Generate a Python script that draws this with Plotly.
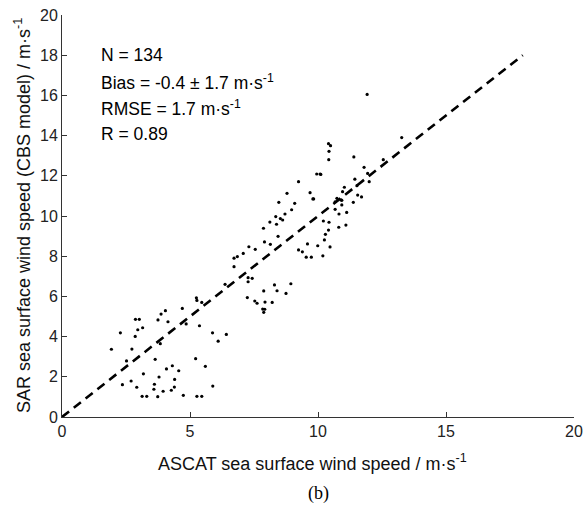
import plotly.graph_objects as go

ascat = [5.25,5.27,5.46,4.70,4.04,3.87,3.75,4.14,2.87,3.02,4.85,5.37,3.15,2.96,2.28,5.88,2.86,3.84,1.93,2.73,
         3.64,5.22,2.52,4.31,4.08,4.56,5.60,3.18,3.79,4.40,2.70,3.61,3.59,2.36,2.92,4.39,5.89,3.95,4.27,4.74,
         3.13,3.31,3.74,5.27,5.46,
         7.24,7.53,7.62,7.93,8.21,7.84,7.92,7.88,6.42,6.10,
         8.47,9.09,9.80,10.67,10.93,8.97,8.71,8.35,8.53,8.62,8.38,8.12,7.87,10.21,10.43,10.41,10.81,8.44,10.29,
         7.91,8.14,10.25,9.59,9.99,10.47,7.30,7.55,9.24,9.39,7.08,6.85,6.72,9.54,9.74,10.19,6.72,7.27,7.43,7.27,
         8.30,8.94,8.40,7.88,8.75,6.37,
         11.55,11.70,11.38,10.93,10.82,11.12,11.09,
         11.92,10.41,10.49,10.43,10.42,10.11,11.40,13.27,11.80,12.55,11.94,12.00,11.44,11.03,10.96,11.52,10.74,10.90,
         9.24,9.95,10.08,8.79,9.69,9.83,10.67]
sar = [5.93,5.80,5.70,5.40,5.29,5.12,4.83,4.74,4.86,4.86,4.63,4.54,4.44,4.34,4.19,4.19,4.01,3.65,3.37,3.38,
       2.87,2.90,2.79,2.55,2.39,2.30,2.52,2.15,1.99,1.87,1.79,1.63,1.38,1.61,1.48,1.49,1.54,1.28,1.33,1.08,
       1.03,1.03,1.01,1.03,1.03,
       5.94,5.77,5.66,5.72,5.70,5.37,5.36,5.21,4.11,3.77,
       10.68,10.63,10.85,10.33,10.55,10.31,10.10,9.97,9.87,9.80,9.59,9.70,9.39,9.75,9.69,9.30,9.44,8.99,9.09,
       8.71,8.59,8.81,8.61,8.52,8.46,8.47,8.34,8.31,8.22,8.14,7.98,7.90,7.95,7.95,8.02,7.48,6.93,6.90,6.73,
       6.57,6.63,6.28,6.27,6.15,6.60,
       11.04,10.95,10.68,10.78,10.10,10.18,9.55,
       16.05,13.60,13.50,13.22,12.80,12.07,12.94,13.90,12.42,12.80,12.12,11.71,11.83,11.43,11.21,11.51,10.88,10.80,
       11.71,12.09,12.09,11.13,11.16,10.85,10.71]

ref_x = [0, 18]
ref_y = [0, 18]
x_ticks = [0, 5, 10, 15, 20]
y_ticks = [0, 2, 4, 6, 8, 10, 12, 14, 16, 18, 20]
stats = ["N = 134", "Bias = -0.4 ± 1.7 m·s<sup>-1</sup>", "RMSE = 1.7 m·s<sup>-1</sup>", "R = 0.89"]
stats_y = [18.0, 16.65, 15.35, 14.1]

SANS = "Liberation Sans, Arial"

fig = go.Figure()
fig.add_trace(go.Scatter(x=ref_x, y=ref_y, mode="lines",
                         line=dict(color="black", width=2.6, dash="9px,6px"), hoverinfo="skip"))
fig.add_trace(go.Scatter(x=ascat, y=sar, mode="markers",
                         marker=dict(color="black", size=3.2, line=dict(width=0))))

for t, yy in zip(stats, stats_y):
    fig.add_annotation(x=1.45, y=yy, text=t, showarrow=False, xanchor="left", yanchor="middle",
                       font=dict(family=SANS, size=17.5, color="black"))

fig.add_annotation(xref="paper", yref="paper", x=0.49, y=-0.114, yanchor="middle",
                   text="ASCAT sea surface wind speed / m·s<sup>-1</sup>", showarrow=False,
                   font=dict(family=SANS, size=18, color="#111111"))
fig.add_annotation(xref="paper", yref="paper", x=-0.078, y=0.5, textangle=-90, xanchor="center",
                   yanchor="middle",
                   text="SAR sea surface wind speed (CBS model) / m·s<sup>-1</sup>", showarrow=False,
                   font=dict(family=SANS, size=18, color="#111111"))
fig.add_annotation(xref="paper", yref="paper", x=0.5, y=-0.19, yanchor="middle",
                   text="(b)", showarrow=False,
                   font=dict(family="Liberation Serif, Times New Roman", size=18, color="black"))

axis_common = dict(showgrid=False, zeroline=False, showline=True, linecolor="#333333", linewidth=1,
                   ticks="inside", ticklen=5, tickcolor="#333333", mirror=False,
                   ticklabeloverflow="allow", automargin=False,
                   tickfont=dict(family=SANS, size=16, color="#222222"))
fig.update_xaxes(range=[0, 20], tickvals=x_ticks, **axis_common)
fig.update_yaxes(range=[0, 20], tickvals=y_ticks, **axis_common)

fig.update_layout(width=584, height=508, showlegend=False,
                  paper_bgcolor="white", plot_bgcolor="white",
                  margin=dict(l=62, r=10, t=15, b=91, autoexpand=False))
fig.write_html("out.html")
